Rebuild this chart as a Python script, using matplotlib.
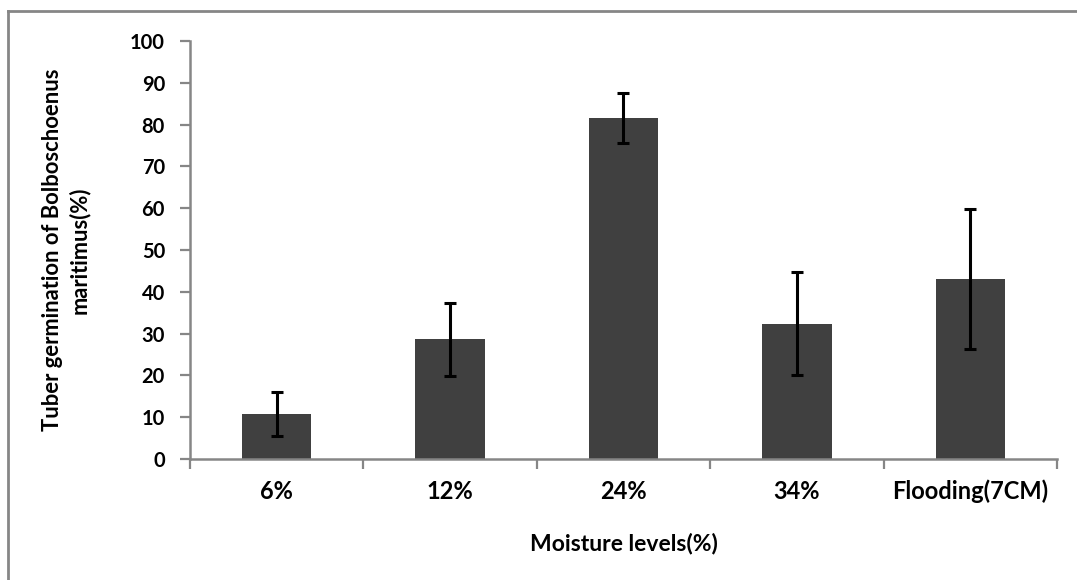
import matplotlib
matplotlib.use("Agg")
import matplotlib.pyplot as plt
from matplotlib.lines import Line2D

# germination
levels = ["6%", "12%", "24%", "34%", "Flooding(7CM)"]
germination = [10.8, 28.6, 81.6, 32.4, 43.0]
germination_err = [5.2, 8.7, 5.9, 12.4, 16.8]

plt.rcParams["font.family"] = ["Lato", "DejaVu Sans"]

AXIS_GREY = "#868686"

fig = plt.figure(figsize=(10.77, 5.80), dpi=100)
ax = fig.add_axes([0.1764, 0.2086, 0.805, 0.7207])

x = list(range(len(levels)))
ax.bar(x, germination, width=0.40, color="#404040", zorder=2)
ax.errorbar(x, germination, yerr=germination_err, fmt="none",
            ecolor="black", elinewidth=2.2, capsize=4.5, capthick=2.2,
            zorder=3)

ax.set_xlim(-0.5, len(levels) - 0.5)
ax.set_ylim(0, 100)
ax.set_yticks(range(0, 101, 10))

# category labels centred, tick marks on the boundaries
ax.set_xticks(x)
ax.set_xticklabels(levels, fontsize=17, fontweight="bold")
ax.set_xticks([i - 0.5 for i in range(len(levels) + 1)], minor=True)
ax.tick_params(axis="x", which="major", length=0, pad=15)
ax.tick_params(axis="x", which="minor", length=7, width=1.6,
               color=AXIS_GREY, direction="out")
ax.tick_params(axis="y", length=7, width=1.6, color=AXIS_GREY,
               direction="out", pad=11, labelsize=14.5)
for lab in ax.get_yticklabels():
    lab.set_fontweight("bold")

for side in ("top", "right"):
    ax.spines[side].set_visible(False)
for side in ("left", "bottom"):
    ax.spines[side].set_color(AXIS_GREY)
    ax.spines[side].set_linewidth(1.8)

ax.set_xlabel("Moisture levels(%)", fontsize=16.5, fontweight="bold")
ax.xaxis.set_label_coords(0.5, -0.175)
ax.set_ylabel("Tuber germination of Bolboschoenus\nmaritimus(%)",
              fontsize=15.8, fontweight="bold", linespacing=1.3)
ax.yaxis.set_label_coords(-0.115, 0.5)

# chart-area border, only top and left edges are visible in the crop
fig.add_artist(Line2D([8 / 1077, 1.0], [1 - 11 / 580] * 2,
                      color=AXIS_GREY, linewidth=2, transform=fig.transFigure))
fig.add_artist(Line2D([8 / 1077] * 2, [0.0, 1 - 11 / 580],
                      color=AXIS_GREY, linewidth=2, transform=fig.transFigure))

fig.savefig("out.png", dpi=100)
